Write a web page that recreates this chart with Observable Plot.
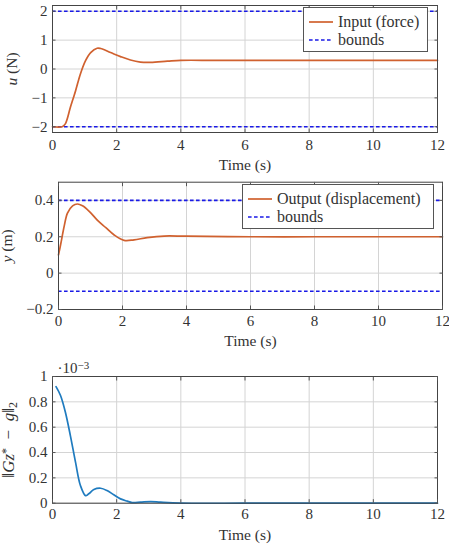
<!DOCTYPE html>
<html>
<head>
<meta charset="utf-8">
<script src="https://cdn.jsdelivr.net/npm/d3@7"></script>
<script src="https://cdn.jsdelivr.net/npm/@observablehq/plot@0.6"></script>
<style>
  body { margin: 0; background: white; }
  #wrap { position: relative; width: 449px; font-family: "Liberation Serif", serif; color: #333; }
  #wrap svg { display: block; }
  #wrap svg, #wrap svg text { font-family: "Liberation Serif", serif !important; }
  .legend { position: absolute; background: white; border: 1px solid #555; box-sizing: border-box; font-size: 16px; line-height: 18px; }
  .legend .row { position: absolute; left: 0; display: flex; align-items: center; height: 18px; line-height: 18px; white-space: nowrap; }
  .legend svg { margin-left: 5px; margin-right: 5px; }
</style>
</head>
<body>
<div id="wrap"></div>
<script>
// ---- data ----
const timeTicks = [0, 2, 4, 6, 8, 10, 12];

// Panel 1: input force u (N)
const uTime  = [0, 0.3, 0.4, 0.56, 0.72, 0.87, 1.03, 1.19, 1.39, 1.5, 1.81, 2.12, 2.43, 2.74, 3.06, 3.58, 4, 5, 6, 8, 10, 12];
const uValue = [-2, -2, -1.9, -1.32, -0.75, -0.17, 0.29, 0.57, 0.72, 0.71, 0.57, 0.43, 0.31, 0.24, 0.23, 0.27, 0.3, 0.3, 0.3, 0.3, 0.3, 0.3];
const uBounds = [-2, 2];
const uTicks = [-2, -1, 0, 1, 2];

// Panel 2: output displacement y (m)
const yTime  = [0, 0.07, 0.18, 0.28, 0.44, 0.59, 0.75, 0.96, 1.22, 1.48, 1.74, 2.05, 2.36, 2.77, 3.3, 4, 6, 8, 10, 12];
const yValue = [0.1, 0.16, 0.26, 0.33, 0.37, 0.38, 0.37, 0.34, 0.29, 0.25, 0.21, 0.18, 0.183, 0.195, 0.204, 0.203, 0.2, 0.2, 0.2, 0.2];
const yBounds = [-0.1, 0.4];
const yTicks = [-0.2, 0, 0.2, 0.4];

// Panel 3: ||Gz* - g||_2 in units of 1e-3
const eTime  = [0.11, 0.25, 0.4, 0.56, 0.72, 0.87, 1.03, 1.13, 1.29, 1.5, 1.7, 1.91, 2.12, 2.33, 2.48, 2.74, 3.06, 3.37, 4, 6, 8, 10, 12];
const eValue = [0.92, 0.85, 0.72, 0.53, 0.32, 0.14, 0.06, 0.074, 0.108, 0.118, 0.1, 0.066, 0.034, 0.016, 0.005, 0.008, 0.013, 0.008, 0.001, 0, 0, 0, 0];
const eTicks = [0, 0.2, 0.4, 0.6, 0.8, 1];

const orange = "#d0612f";
const dashBlue = "#1a1ae6";
const lineBlue = "#1f7bbf";
const dash = "3.6,2.4";

const wrap = document.getElementById("wrap");

function panel(o) {
  const data = o.t.map((t, i) => ({t, v: o.v[i]}));
  const marks = [
    Plot.gridX(timeTicks, {stroke: "#d4d4d4", strokeOpacity: 1}),
    Plot.gridY(o.ticks, {stroke: "#d4d4d4", strokeOpacity: 1}),
  ];
  if (o.bounds) marks.push(Plot.ruleY(o.bounds, {stroke: dashBlue, strokeWidth: 1.6, strokeDasharray: dash}));
  marks.push(
    Plot.line(data, {x: "t", y: "v", stroke: o.color, strokeWidth: 1.7, curve: "catmull-rom"}),
    Plot.frame({stroke: "#444", strokeWidth: 1}),
    // inward tick marks on all four sides
    Plot.axisX(timeTicks, {anchor: "bottom", tickSize: -3.5, tickFormat: () => "", label: null, stroke: "#555"}),
    Plot.axisX(timeTicks, {anchor: "top", tickSize: -3.5, tickFormat: () => "", label: null, stroke: "#555"}),
    Plot.axisY(o.ticks, {anchor: "left", tickSize: -3.5, tickFormat: () => "", label: null, stroke: "#555"}),
    Plot.axisY(o.ticks, {anchor: "right", tickSize: -3.5, tickFormat: () => "", label: null, stroke: "#555"}),
    // tick labels
    Plot.axisX(timeTicks, {anchor: "bottom", tickSize: 0, tickPadding: o.xPad, fontSize: 15, label: null}),
    Plot.axisY(o.ticks, {anchor: "left", tickSize: 0, tickPadding: 5, fontSize: 15, label: null, tickFormat: o.fmt}),
    Plot.text(["Time (s)"], {frameAnchor: "bottom", dy: o.xLabDy, text: d => d, fontSize: 15.5, textAnchor: "middle", lineAnchor: "middle"}),
    Plot.text([o.label], {frameAnchor: "left", dx: o.yLabDx, rotate: -90, text: d => d, fontSize: o.labSize || 15.5, textAnchor: "middle", lineAnchor: "middle", className: "ylab"})
  );
  if (o.exp) marks.push(Plot.text([o.exp], {frameAnchor: "top-left", dx: 5, dy: -4, textAnchor: "start", lineAnchor: "bottom", text: d => d, fontSize: 15, className: "explab"}));
  const svg = Plot.plot({
    width: 449,
    height: o.height,
    marginTop: o.mt, marginBottom: o.mb, marginLeft: o.ml, marginRight: o.mr,
    style: {fontFamily: "'Liberation Serif', serif", color: "#333", background: "white", overflow: "visible"},
    x: {domain: [0, 12]},
    y: {domain: o.domain},
    marks
  });
  wrap.appendChild(svg);
  return svg;
}

const s1 = panel({t: uTime, v: uValue, bounds: uBounds, ticks: uTicks, domain: [-2.2, 2.2], color: orange,
  height: 175, mt: 5, mb: 43, ml: 52, mr: 12, xPad: 7, xLabDy: 32.5, yLabDx: -40, label: "u (N)"});
const s2 = panel({t: yTime, v: yValue, bounds: yBounds, ticks: yTicks, domain: [-0.2, 0.5], color: orange,
  height: 180, mt: 6.7, mb: 46, ml: 58, mr: 7, xPad: 6, xLabDy: 32, yLabDx: -51, label: "y (m)", fmt: d3.format(".1~f")});
const s3 = panel({t: eTime, v: eValue, ticks: eTicks, domain: [0, 1], color: lineBlue,
  height: 190, mt: 21, mb: 42.3, ml: 52, mr: 12, xPad: 5, xLabDy: 32, yLabDx: -44, label: "G", exp: "e", labSize: 17,
  fmt: d => d === 0 ? "0" : d === 1 ? "1" : d3.format(".1f")(d)});

// rich text for labels (italic math symbols, sub/superscripts)
function rich(svg, sel, html) {
  const t = svg.querySelector(sel);
  if (t) t.innerHTML = html;
}
rich(s1, "g.ylab text", '<tspan font-style="italic">u</tspan> (N)');
rich(s2, "g.ylab text", '<tspan font-style="italic">y</tspan> (m)');
rich(s3, "g.ylab text", '‖<tspan font-style="italic">Gz</tspan><tspan baseline-shift="35%" font-size="12">*</tspan>  −  <tspan font-style="italic">g</tspan>‖<tspan baseline-shift="-25%" font-size="12">2</tspan>');
rich(s3, "g.explab text", '·10<tspan baseline-shift="40%" font-size="11">−3</tspan>');

// legends
function legend(left, top, w, h, rows) {
  const div = document.createElement("div");
  div.className = "legend";
  Object.assign(div.style, {left: left + "px", top: top + "px", width: w + "px", height: h + "px"});
  rows.forEach((r, i) => {
    const row = document.createElement("div");
    row.className = "row";
    row.style.top = (r.cy - 9) + "px";
    row.innerHTML = `<svg width="24" height="6"><line x1="0" x2="24" y1="3" y2="3" stroke="${r.color}" stroke-width="1.7" ${r.dash ? `stroke-dasharray="${dash}"` : ''}/></svg><span>${r.text}</span>`;
    div.appendChild(row);
  });
  wrap.appendChild(div);
}
legend(303, 7, 125, 45, [
  {cy: 14, color: orange, text: "Input (force)"},
  {cy: 31.5, color: dashBlue, dash: true, text: "bounds"}
]);
legend(242, 184, 192, 45, [
  {cy: 14, color: orange, text: "Output (displacement)"},
  {cy: 32, color: dashBlue, dash: true, text: "bounds"}
]);
</script>
</body>
</html>
